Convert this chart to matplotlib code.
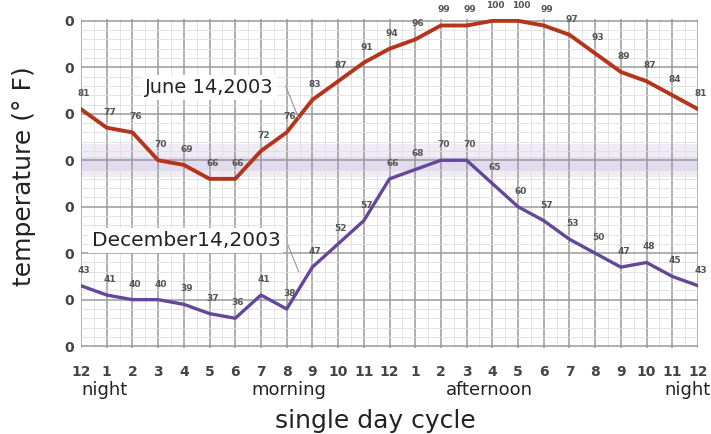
import matplotlib
matplotlib.use("Agg")
import matplotlib.pyplot as plt
from matplotlib.ticker import MultipleLocator

hour_labels = ["12", "1", "2", "3", "4", "5", "6", "7", "8", "9", "10", "11",
               "12", "1", "2", "3", "4", "5", "6", "7", "8", "9", "10", "11", "12"]
june = [81, 77, 76, 70, 69, 66, 66, 72, 76, 83, 87, 91, 94, 96, 99, 99, 100, 100,
        99, 97, 93, 89, 87, 84, 81]
december = [43, 41, 40, 40, 39, 37, 36, 41, 38, 47, 52, 57, 66, 68, 70, 70, 65, 60,
            57, 53, 50, 47, 48, 45, 43]
y_ticks = [30, 40, 50, 60, 70, 80, 90, 100]
y_tick_labels = ["0"] * len(y_ticks)
period_labels = ["night", "morning", "afternoon", "night"]
period_pos = [0, 8.1, 15.9, 24.5]
period_ha = ["left", "center", "center", "right"]

x = list(range(len(june)))

fig = plt.figure(figsize=(7.11, 4.34), dpi=100)
ax = fig.add_axes([81 / 711, 86 / 434, 617 / 711, 329 / 434])
ax.set_xlim(0, 24)
ax.set_ylim(29.6, 100.4)

# lavender band
ax.axhspan(66.5, 73.5, color="#f0ecf6", zorder=0, lw=0)
ax.axhspan(67.6, 70.6, color="#e2daee", zorder=0, lw=0)

# grid
ax.xaxis.set_major_locator(MultipleLocator(1))
ax.xaxis.set_minor_locator(MultipleLocator(0.5))
ax.yaxis.set_major_locator(MultipleLocator(10))
ax.yaxis.set_minor_locator(MultipleLocator(2))
ax.grid(which="major", color="#9a9a9a", lw=1.1, zorder=1)
ax.grid(which="minor", color="#dedede", lw=0.6, zorder=1)
for s in ax.spines.values():
    s.set_visible(False)
ax.tick_params(which="both", length=0)

ax.set_xticks(x)
ax.set_xticklabels(hour_labels, fontsize=10, fontweight="bold", color="#444444")
ax.tick_params(axis="x", pad=12)
ax.set_yticks(y_ticks)
ax.set_yticklabels(y_tick_labels, fontsize=10, fontweight="bold", color="#444444")
ax.tick_params(axis="y", pad=5)

ax.plot(x, june, color="#b4341c", lw=2.8, solid_joinstyle="round", zorder=3)
ax.plot(x, december, color="#65479a", lw=2.4, solid_joinstyle="round", zorder=3)

for xi, v in zip(x, june):
    ax.annotate(str(v), (xi, v), xytext=(2, 8), textcoords="offset points",
                ha="center", va="bottom", fontsize=6.5, fontweight="bold",
                color="#555555", zorder=4)
for xi, v in zip(x, december):
    ax.annotate(str(v), (xi, v), xytext=(2, 8), textcoords="offset points",
                ha="center", va="bottom", fontsize=6.5, fontweight="bold",
                color="#555555", zorder=4)

# series labels with leader lines
ax.annotate("", xy=(8.47, 79.0), xytext=(7.96, 86.0),
            arrowprops=dict(arrowstyle="-", color="#999999", lw=0.8,
                            shrinkA=0, shrinkB=0), zorder=5)
ax.annotate("", xy=(8.47, 46.0), xytext=(8.04, 51.9),
            arrowprops=dict(arrowstyle="-", color="#999999", lw=0.8,
                            shrinkA=0, shrinkB=0), zorder=5)
ax.text(5.0, 85.6, "June 14,2003", ha="center", va="center", fontsize=14,
        color="#222222", zorder=6,
        bbox=dict(boxstyle="square,pad=0.15", fc="white", ec="none"))
ax.text(4.08, 52.8, "December14,2003", ha="center", va="center", fontsize=14.5,
        color="#222222", zorder=6,
        bbox=dict(boxstyle="square,pad=0.15", fc="white", ec="none"))

for lab, p, ha in zip(period_labels, period_pos, period_ha):
    ax.text(p, -0.128, lab, transform=ax.get_xaxis_transform(), ha=ha, va="center",
            fontsize=13, color="#222222", clip_on=False)

fig.text(375 / 711, 1 - 421 / 434, "single day cycle", ha="center", va="center",
         fontsize=18, color="#222222")
fig.text(24 / 711, 1 - 176 / 434, "temperature (° F)", ha="center", va="center",
         rotation=90, fontsize=18, color="#222222")

fig.savefig("out.png", dpi=100, facecolor="white")
